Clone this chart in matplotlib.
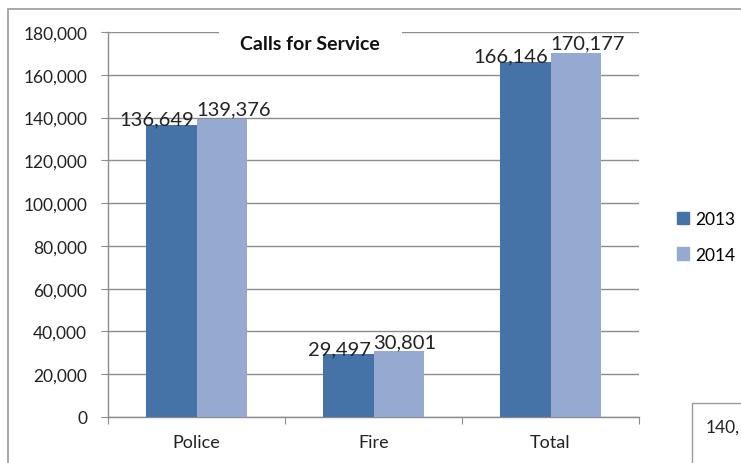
import matplotlib
matplotlib.use("Agg")
import matplotlib.pyplot as plt
from matplotlib.patches import Rectangle, Patch
import numpy as np

plt.rcParams["font.family"] = ["Lato", "DejaVu Sans"]

# service call counts by year
categories = ["Police", "Fire", "Total"]
years = ["2013", "2014"]
calls_2013 = [136649, 29497, 166146]
calls_2014 = [139376, 30801, 170177]
yticks = [0, 20000, 40000, 60000, 80000, 100000, 120000, 140000, 160000, 180000]

c13 = "#4572A7"
c14 = "#95A9D1"
grid_c = "#8C8C8C"
txt_c = "#222222"

fig = plt.figure(figsize=(7.41, 4.64), dpi=100)
W, H = 741, 464

# outer chart frame (runs off the right/bottom of the canvas)
fig.patches.append(Rectangle((8 / W, -0.2), 1.2, 1.2 - 10 / H, transform=fig.transFigure,
                             fill=False, edgecolor="#9A9A9A", linewidth=1.2, zorder=0))
# neighbouring box peeking in at the bottom right
fig.patches.append(Rectangle((692 / W, -0.2), 0.5, 0.2 + (464 - 404) / H, transform=fig.transFigure,
                             fill=False, edgecolor="#9A9A9A", linewidth=1.0, zorder=0))
fig.text(706 / W, 1 - 428 / H, "140,", fontsize=12.5, va="center", ha="left", color=txt_c)

ax = fig.add_axes([108 / W, 1 - 418 / H, (639 - 108) / W, (418 - 33) / H])

x = np.arange(len(categories))
bw = 0.283
ax.bar(x - bw / 2, calls_2013, bw, color=c13, zorder=3, label=years[0])
ax.bar(x + bw / 2, calls_2014, bw, color=c14, zorder=3, label=years[1])

# value labels sit on either side of the boundary between the paired bars
for xi, v in zip(x, calls_2013):
    ax.annotate(f"{v:,}", (xi, v), xytext=(-2, 0), textcoords="offset points",
                ha="right", va="baseline", fontsize=14.5, color=txt_c, zorder=5)
for xi, v in zip(x, calls_2014):
    ax.annotate(f"{v:,}", (xi, v), xytext=(0, 3), textcoords="offset points",
                ha="left", va="baseline", fontsize=14.5, color=txt_c, zorder=5)

ax.set_xlim(-0.5, 2.5)
ax.set_ylim(0, 180000)
ax.set_yticks(yticks)
ax.set_yticklabels([f"{t:,}" for t in yticks])
ax.yaxis.grid(True, color=grid_c, linewidth=1.0, zorder=0)

ax.set_xticks([-0.5, 0.5, 1.5, 2.5])
ax.set_xticklabels([])
ax.set_xticks(x, minor=True)
ax.set_xticklabels(categories, minor=True)
ax.tick_params(axis="x", which="major", length=5, color=grid_c, direction="out")
ax.tick_params(axis="x", which="minor", length=0, pad=12, labelsize=13, labelcolor=txt_c)
ax.tick_params(axis="y", length=5, color=grid_c, pad=10, labelsize=12.5, labelcolor=txt_c)

for s in ["top", "right"]:
    ax.spines[s].set_visible(False)
for s in ["left", "bottom"]:
    ax.spines[s].set_color(grid_c)
    ax.spines[s].set_linewidth(1.0)

# title with a white box that breaks the top gridline
fig.text(310 / W, 1 - 44 / H, "Calls for Service", fontsize=14, fontweight="bold",
         ha="center", va="center", color="#111111", zorder=10)
fig.patches.append(Rectangle((219 / W, 1 - 60 / H), (402 - 219) / W, 30 / H,
                             transform=fig.transFigure, facecolor="white", edgecolor="none", zorder=9))

handles = [Patch(color=c13), Patch(color=c14)]
fig.legend(handles, years, loc="center left", bbox_to_anchor=(668 / W, 1 - 238 / H),
           frameon=False, fontsize=12.5, handlelength=0.7, handleheight=0.7,
           handletextpad=0.35, labelspacing=1.1, borderpad=0)

fig.savefig("out.png", dpi=100)
